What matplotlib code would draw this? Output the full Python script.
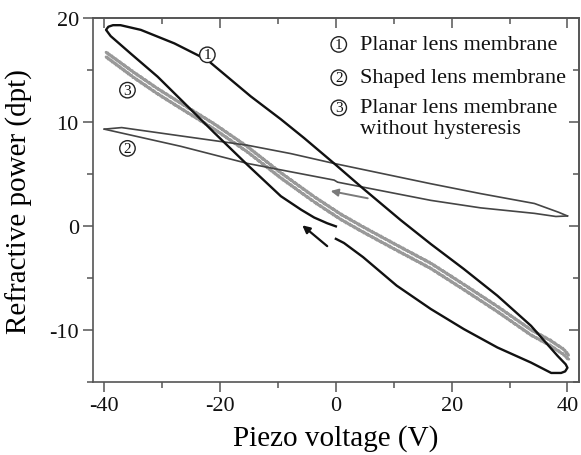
import matplotlib
matplotlib.use('Agg')
import matplotlib.pyplot as plt
from matplotlib.ticker import MultipleLocator

plt.rcParams['font.family'] = ['Liberation Serif', 'DejaVu Serif']
plt.rcParams['axes.unicode_minus'] = False

# curve 1: planar lens membrane (hysteresis loop, starts at the gap near 0 V)
x1 = [0.0, -1.5, -3.75, -6.0, -9.5, -15.25, -21.0, -26.8, -30.8, -35.4, -38.9,
      -39.7, -39.3, -38.5, -37.2, -33.7, -27.9, -22.2, -14.7, -9.5, -5.5, -0.3, 4.7, 11.2,
      16.4, 22.1, 27.9, 33.7, 38.3, 39.7, 40.0, 39.6, 38.9, 37.2, 33.7, 27.9, 22.1,
      16.4, 10.5, 4.7, 1.4, 0.0]
y1 = [0.0, 0.3, 0.85, 1.6, 2.9, 5.9, 9.0, 12.2, 14.4, 16.6, 18.3,
      18.9, 19.2, 19.35, 19.35, 18.9, 17.6, 16.0, 12.5, 10.3, 8.5, 6.05, 3.64, 0.6,
      -1.7, -4.1, -6.67, -9.56, -12.46, -13.27, -13.6, -13.95, -14.1, -14.1, -13.1, -11.65, -9.88,
      -7.95, -5.7, -2.96, -1.6, -1.2]

# curve 2: shaped lens membrane (thin loop)
x2_up = [-40.0, -37.0, -26.8, -15.25, -7.8, -0.3, 16.4, 25.0, 34.3, 38.5, 40.0]
y2_up = [9.35, 9.5, 8.7, 7.8, 7.0, 6.05, 4.1, 3.15, 2.2, 1.35, 1.0]
x2_lo = [-40.0, -26.8, -15.25, -7.8, -0.3, 0.3, 16.4, 25.0, 34.3, 38.0, 40.0]
y2_lo = [9.35, 7.7, 6.05, 5.25, 4.45, 4.25, 2.5, 1.78, 1.25, 0.95, 1.0]

# curve 3: planar lens membrane without hysteresis (up and down sweep)
x3 = [-39.7, -35.0, -30.8, -26.8, -21.0, -15.25, -9.5, -3.75, 0.9, 4.7, 10.5, 16.4,
      22.0, 27.9, 33.7, 37.0, 39.4, 40.2]
y3_up = [16.75, 14.85, 13.25, 11.85, 9.85, 7.65, 5.15, 2.85, 1.15, -0.05, -1.8, -3.55,
         -5.55, -7.7, -9.95, -10.95, -11.85, -12.4]
y3_dn = [16.3, 14.35, 12.75, 11.35, 9.35, 7.15, 4.65, 2.35, 0.65, -0.55, -2.3, -4.05,
         -6.05, -8.2, -10.45, -11.45, -12.35, -12.8]

# direction arrows (tail, head)
arrow1 = ((-1.5, -1.9), (-5.8, 0.1))
arrow2 = ((5.5, 2.7), (-0.9, 3.4))

curve_labels = ['1', '2', '3']
curve_label_pos = [(-22.2, 16.5), (-36.0, 7.5), (-36.0, 13.1)]
legend_lines = ['Planar lens membrane', 'Shaped lens membrane',
                'Planar lens membrane', 'without hysteresis']
legend_y = [17.5, 14.3, 11.4, 9.45]

fig = plt.figure(figsize=(5.81, 4.56), dpi=100)
ax = fig.add_axes([0.1596, 0.1594, 0.837, 0.798])

for yy in (y3_up, y3_dn):
    ln, = ax.plot(x3, yy, color='#999999', lw=2.0, solid_capstyle='round')
    ln.set_sketch_params(scale=0.6, length=2.5, randomness=1)
ax.plot(x2_up, y2_up, color='#454545', lw=1.2)
ax.plot(x2_lo, y2_lo, color='#454545', lw=1.2)
ax.plot(x1, y1, color='#111111', lw=1.7)

ax.annotate('', xy=arrow1[1], xytext=arrow1[0],
            arrowprops=dict(arrowstyle='-|>', color='#111111', lw=1.6, mutation_scale=11,
                            shrinkA=0, shrinkB=0))
ax.annotate('', xy=arrow2[1], xytext=arrow2[0],
            arrowprops=dict(arrowstyle='-|>', color='#7a7a7a', lw=1.4, mutation_scale=11,
                            shrinkA=0, shrinkB=0))

circ = dict(boxstyle='circle,pad=0.08', fc='white', ec='#222222', lw=1.0)
for lab, (px, py) in zip(curve_labels, curve_label_pos):
    ax.text(px, py, lab, fontsize=11, ha='center', va='center', bbox=circ, color='#111111')

for lab, yy in zip(curve_labels, legend_y[:3]):
    ax.text(0.5, yy, lab, fontsize=11, ha='center', va='center', bbox=circ, color='#111111')
for txt, yy in zip(legend_lines, legend_y):
    ax.text(4.1, yy, txt, fontsize=16, ha='left', va='center', color='#111111')

ax.set_xlim(-42, 42)
ax.set_ylim(-15, 20)
ax.xaxis.set_major_locator(MultipleLocator(20))
ax.xaxis.set_minor_locator(MultipleLocator(10))
ax.yaxis.set_major_locator(MultipleLocator(10))
ax.yaxis.set_minor_locator(MultipleLocator(5))
ax.tick_params(which='both', direction='out', top=False, right=False, colors='#555555',
               labelcolor='#111111', labelsize=16, width=1.1)
ax.tick_params(which='major', length=7, pad=3)
ax.tick_params(which='minor', length=4)

sx = ax.secondary_xaxis('top')
sx.xaxis.set_major_locator(MultipleLocator(20))
sx.xaxis.set_minor_locator(MultipleLocator(10))
sx.tick_params(which='both', direction='in', labeltop=False, colors='#555555', width=1.1)
sx.tick_params(which='major', length=7)
sx.tick_params(which='minor', length=4)
sy = ax.secondary_yaxis('right')
sy.yaxis.set_major_locator(MultipleLocator(10))
sy.yaxis.set_minor_locator(MultipleLocator(5))
sy.tick_params(which='both', direction='in', labelright=False, colors='#555555', width=1.1)
sy.tick_params(which='major', length=7)
sy.tick_params(which='minor', length=4)
for s in list(ax.spines.values()) + [sx.spines['top'], sy.spines['right']]:
    s.set_color('#555555')
    s.set_linewidth(1.2)

ax.set_xlabel('Piezo voltage (V)', fontsize=21)
ax.set_ylabel('Refractive power (dpt)', fontsize=21)
ax.xaxis.set_label_coords(0.5, -0.115)
ax.yaxis.set_label_coords(-0.122, 0.5)

fig.savefig('out.png', dpi=100)
